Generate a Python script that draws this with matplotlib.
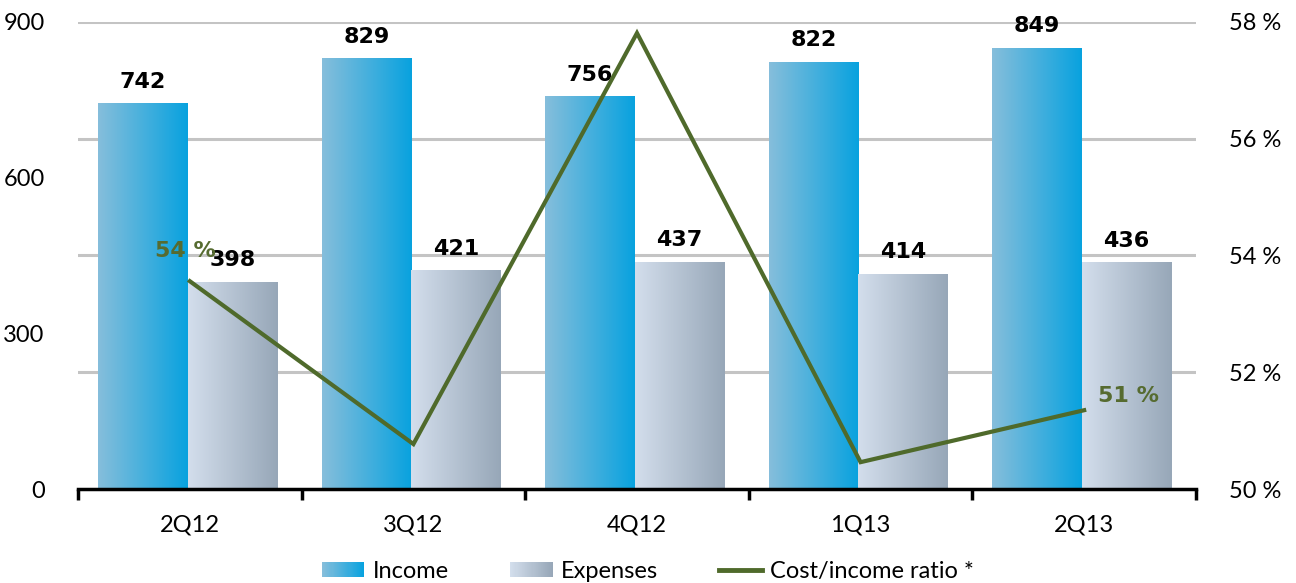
import numpy as np
import matplotlib
matplotlib.use("Agg")
import matplotlib.pyplot as plt
from matplotlib.patches import Rectangle
from matplotlib.legend_handler import HandlerBase
from matplotlib.colors import to_rgb
from matplotlib.lines import Line2D

# =========================================================
# DATA
# =========================================================

quarters = ["2Q12", "3Q12", "4Q12", "1Q13", "2Q13"]
income = [742, 829, 756, 822, 849]
expenses = [398, 421, 437, 414, 436]
cost_income = [53.56, 50.77, 57.81, 50.46, 51.35]

left_ticks = [0, 300, 600, 900]
right_ticks = [50, 52, 54, 56, 58]

# =========================================================
# STYLE
# =========================================================

INC_COLS = ("#86bedb", "#08a2df")
EXP_COLS = ("#d3deec", "#97a7b8")
LINE_COL = "#4f6a2b"
LABEL_COL = "#566b30"
GRID_COL = "#c4c4c4"

TICK_FONT = "Lato"
BOLD_FONT = "DejaVu Sans"
TICK_SIZE = 17


def gradient_img(c0, c1, n=256):
    a = np.array(to_rgb(c0))
    b = np.array(to_rgb(c1))
    t = np.linspace(0, 1, n)[:, None]
    return (a + (b - a) * t)[None, :, :]


class GradientHandler(HandlerBase):

    def __init__(self, c0, c1):
        super().__init__()
        self.c0 = np.array(to_rgb(c0))
        self.c1 = np.array(to_rgb(c1))

    def create_artists(self, legend, orig_handle, xdescent, ydescent,
                       width, height, fontsize, trans):
        n = 40
        out = []
        for i in range(n):
            c = self.c0 + (self.c1 - self.c0) * i / (n - 1)
            r = Rectangle((-xdescent + i * width / n, -ydescent),
                          width / n * 1.05, height,
                          facecolor=c, edgecolor="none", transform=trans)
            out.append(r)
        return out


# =========================================================
# FIGURE
# =========================================================

fig = plt.figure(figsize=(12.96, 5.83), dpi=100)
ax = fig.add_axes([0.0602, 0.1612, 0.8626, 0.8011])
ax2 = ax.twinx()

x = np.arange(len(quarters))
bw = 0.4

# gridlines at right-axis ticks, drawn under the bars
for p in right_ticks[1:]:
    yv = (p - right_ticks[0]) / (right_ticks[-1] - right_ticks[0]) * 900
    ax.axhline(yv, color=GRID_COL, lw=2.2, zorder=0)

inc_img = gradient_img(*INC_COLS)
exp_img = gradient_img(*EXP_COLS)

for xi, v in zip(x, income):
    ax.imshow(inc_img, extent=[xi - bw - 0.01, xi - 0.01, 0, v],
              aspect="auto", zorder=2, interpolation="bilinear")
    ax.annotate(f"{v}", (xi - bw / 2 - 0.01, v), xytext=(0, 12),
                textcoords="offset pixels", ha="center", va="bottom",
                fontsize=16, fontweight="bold", family=BOLD_FONT)

for xi, v in zip(x, expenses):
    ax.imshow(exp_img, extent=[xi - 0.01, xi + bw - 0.01, 0, v],
              aspect="auto", zorder=2, interpolation="bilinear")
    ax.annotate(f"{v}", (xi + bw / 2 - 0.01, v), xytext=(0, 12),
                textcoords="offset pixels", ha="center", va="bottom",
                fontsize=16, fontweight="bold", family=BOLD_FONT)

ax.set_xlim(-0.5, len(quarters) - 0.5)
ax.set_ylim(0, 900)
ax2.set_ylim(50, 58)

# cost/income line
ax2.plot(x, cost_income, color=LINE_COL, lw=3, solid_joinstyle="miter",
         zorder=5)

ax2.annotate(f"{cost_income[0]:.0f} %", (x[0], cost_income[0]),
             xytext=(-4, 20), textcoords="offset pixels",
             ha="center", va="bottom", fontsize=16, fontweight="bold",
             family=BOLD_FONT, color=LABEL_COL)
ax2.annotate(f"{cost_income[-1]:.0f} %", (x[-1], cost_income[-1]),
             xytext=(44, 4), textcoords="offset pixels",
             ha="center", va="bottom", fontsize=16, fontweight="bold",
             family=BOLD_FONT, color=LABEL_COL)

# axes styling
for a in (ax, ax2):
    for s in ("top", "left", "right"):
        a.spines[s].set_visible(False)
ax2.spines["bottom"].set_visible(False)
ax.spines["bottom"].set_linewidth(2.5)
ax.spines["bottom"].set_zorder(6)

ax.set_yticks(left_ticks)
ax.set_yticklabels([str(t) for t in left_ticks], family=TICK_FONT,
                   fontsize=TICK_SIZE)
ax.tick_params(axis="y", length=0, pad=24)

ax2.set_yticks(right_ticks)
ax2.set_yticklabels([f"{t} %" for t in right_ticks], family=TICK_FONT,
                    fontsize=TICK_SIZE)
ax2.tick_params(axis="y", length=0, pad=24)

ax.set_xticks(np.arange(len(quarters) + 1) - 0.5, minor=True)
ax.set_xticks(x)
ax.set_xticklabels(quarters, family=TICK_FONT, fontsize=TICK_SIZE)
ax.tick_params(axis="x", which="major", length=0, pad=18)
ax.tick_params(axis="x", which="minor", length=8, width=2.5,
               direction="out")

# legend
h_inc = Rectangle((0, 0), 1, 1)
h_exp = Rectangle((0, 0), 1, 1)
h_line = Line2D([0], [0], color=LINE_COL, lw=3.5)

fig.legend(
    [h_inc, h_exp, h_line],
    ["Income", "Expenses", "Cost/income ratio *"],
    handler_map={
        h_inc: GradientHandler(*INC_COLS),
        h_exp: GradientHandler(*EXP_COLS),
    },
    loc="center",
    bbox_to_anchor=(0.5, 0.02),
    ncol=3,
    frameon=False,
    prop={"family": TICK_FONT, "size": TICK_SIZE},
    handlelength=1.8,
    handleheight=0.55,
    handletextpad=0.35,
    columnspacing=2.6,
)

fig.savefig("out.png", dpi=100)
